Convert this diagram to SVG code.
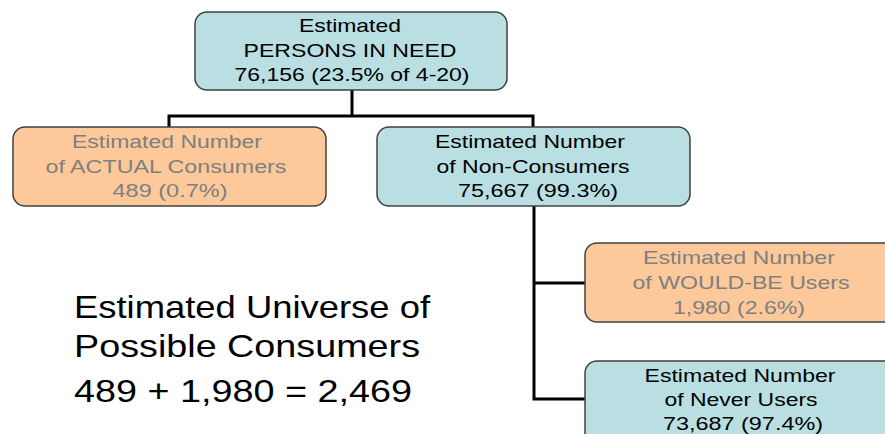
<svg xmlns="http://www.w3.org/2000/svg" width="885" height="434" viewBox="0 0 885 434">
<style>
text{font-family:"Liberation Sans",Arial,sans-serif;text-anchor:middle;}
.blue{fill:#b9dfe2;stroke:#404040;stroke-width:1.5;}
.orange{fill:#fdc99a;stroke:#404040;stroke-width:1.5;}
.t{font-size:19px;fill:#000;}
.g{font-size:19px;fill:#7f7f7f;}
.big{font-size:32px;fill:#000;text-anchor:start;}
.conn{stroke:#000;stroke-width:3;fill:none;}
</style>
<rect width="885" height="434" fill="#fff"/>
<g id="connectors">
<path class="conn" d="M352,90 V116 M169,127 V116 H533 V127"/>
<path class="conn" d="M534,206 V399 H585 M534,283 H585"/>
</g>
<g id="persons">
<rect class="blue" x="195" y="12" width="312" height="78" rx="12"/>
<text class="t" x="350" y="32" textLength="102" lengthAdjust="spacingAndGlyphs">Estimated</text>
<text class="t" x="350" y="57" textLength="213" lengthAdjust="spacingAndGlyphs">PERSONS IN NEED</text>
<text class="t" x="352" y="81" textLength="235" lengthAdjust="spacingAndGlyphs">76,156 (23.5% of 4-20)</text>
</g>
<g id="actual">
<rect class="orange" x="13" y="127" width="313" height="79" rx="12"/>
<text class="g" x="167" y="148" textLength="190" lengthAdjust="spacingAndGlyphs">Estimated Number</text>
<text class="g" x="166" y="173" textLength="241" lengthAdjust="spacingAndGlyphs">of ACTUAL Consumers</text>
<text class="g" x="170" y="197" textLength="115" lengthAdjust="spacingAndGlyphs">489 (0.7%)</text>
</g>
<g id="nonconsumers">
<rect class="blue" x="377" y="127" width="313" height="79" rx="12"/>
<text class="t" x="530" y="148" textLength="190" lengthAdjust="spacingAndGlyphs">Estimated Number</text>
<text class="t" x="533" y="173" textLength="193" lengthAdjust="spacingAndGlyphs">of Non-Consumers</text>
<text class="t" x="538" y="197" textLength="160" lengthAdjust="spacingAndGlyphs">75,667 (99.3%)</text>
</g>
<g id="wouldbe">
<rect class="orange" x="585" y="243" width="320" height="79" rx="12"/>
<text class="g" x="739" y="264" textLength="192" lengthAdjust="spacingAndGlyphs">Estimated Number</text>
<text class="g" x="741" y="289" textLength="217" lengthAdjust="spacingAndGlyphs">of WOULD-BE Users</text>
<text class="g" x="739" y="314" textLength="132" lengthAdjust="spacingAndGlyphs">1,980 (2.6%)</text>
</g>
<g id="never">
<rect class="blue" x="585" y="361" width="320" height="90" rx="12"/>
<text class="t" x="740" y="382" textLength="191" lengthAdjust="spacingAndGlyphs">Estimated Number</text>
<text class="t" x="741" y="406" textLength="153" lengthAdjust="spacingAndGlyphs">of Never Users</text>
<text class="t" x="743" y="430" textLength="160" lengthAdjust="spacingAndGlyphs">73,687 (97.4%)</text>
</g>
<g id="universe">
<text class="big" x="74" y="318" textLength="356" lengthAdjust="spacingAndGlyphs">Estimated Universe of</text>
<text class="big" x="74" y="357" textLength="346" lengthAdjust="spacingAndGlyphs">Possible Consumers</text>
<text class="big" x="74" y="402" textLength="338" lengthAdjust="spacingAndGlyphs">489 + 1,980 = 2,469</text>
</g>
</svg>
